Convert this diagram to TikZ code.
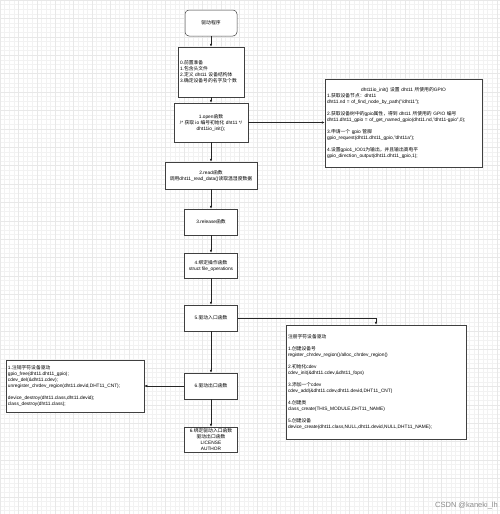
\documentclass[tikz,border=0pt]{standalone}
\usepackage{fontspec}
\usetikzlibrary{arrows.meta}
\setmainfont{Liberation Sans}
\newfontfamily\cjkfont{Noto Sans CJK SC}
\XeTeXinterchartokenstate=1
\newXeTeXintercharclass\CJKcls
\makeatletter
\count@="4E00
\loop
  \XeTeXcharclass\count@=\CJKcls
  \ifnum\count@<"9FFF \advance\count@ by 1
\repeat
\makeatother
\XeTeXcharclass"FF0C=\CJKcls
\XeTeXcharclass"FF1A=\CJKcls
\XeTeXcharclass"3001=\CJKcls
\XeTeXcharclass"3002=\CJKcls
\XeTeXinterchartoks 0 \CJKcls = {\begingroup\cjkfont}
\XeTeXinterchartoks 4095 \CJKcls = {\begingroup\cjkfont}
\XeTeXinterchartoks \CJKcls 0 = {\endgroup}
\XeTeXinterchartoks \CJKcls 4095 = {\endgroup}
\newcommand\fs{\fontsize{4.8}{6}\selectfont}
\begin{document}
\begin{tikzpicture}[x=1pt,y=-1pt,
  box/.style={draw=black!75,line width=0.5pt,fill=white,inner sep=0pt,font=\fs},
  cbox/.style={box,align=center,minimum width=53pt,minimum height=26pt},
  lbox/.style={box,align=left,inner xsep=2pt},
  flow/.style={draw=black!85,line width=0.5pt,-{Latex[length=3pt,width=2.6pt]}},
  ]
\useasboundingbox (0,0) rectangle (500,514);
\fill[white] (0,0) rectangle (500,514);
% grid
\foreach \i in {0,...,108}{
  \draw[black!5,line width=0.3pt] ({\i*4.6},0) -- ({\i*4.6},514);
}
\foreach \i in {0,...,111}{
  \draw[black!5,line width=0.3pt] (0,{\i*4.6}) -- (500,{\i*4.6});
}
\foreach \i in {0,...,27}{
  \draw[black!9,line width=0.4pt] ({\i*18.4},0) -- ({\i*18.4},514);
  \draw[black!9,line width=0.4pt] (0,{\i*18.4}) -- (500,{\i*18.4});
}

\node[cbox,rounded corners=4pt,minimum width=52pt] (start) at (211,23) {驱动程序};
\node[lbox,text width=62pt,minimum height=50pt] (b0) at (211,72)
  {0.前置准备\\1.包含头文件\\2.定义 dht11 设备结构体\\3.确定设备号的名字及个数};
\node[cbox,minimum width=74pt,minimum height=39pt] (b1) at (211,122.5)
  {1.open函数\\/* 获取 io 编号初始化 dht11 */\\dht11io\_init();};
\node[cbox,minimum width=92pt,minimum height=27pt] (b2) at (211,175.5)
  {2.read函数\\调用dht11\_read\_data()读取温湿度数据};
\node[cbox] (b3) at (211,222) {3.release函数};
\node[cbox,minimum height=25pt] (b4) at (211,265.5) {4.绑定操作函数\\struct file\_operations};
\node[cbox] (b5) at (211,318) {5.驱动入口函数};
\node[cbox] (b6) at (211,386) {6.驱动出口函数};
\node[cbox,minimum height=25pt] (b7) at (211,439.5)
  {6.绑定驱动入口函数\\驱动出口函数\\LICENSE\\AUTHOR};

\node[lbox,text width=153pt,minimum height=88pt] (gpio) at (403.5,123)
  {\makebox[\linewidth][c]{dht11io\_init() 设置 dht11 所使用的GPIO}\\
   1.获取设备节点：dht11\\
   dht11.nd = of\_find\_node\_by\_path("/dht11");\\[6pt]
   2.获取设备树中的gpio属性，得到 dht11 所使用的 GPIO 编号\\
   dht11.dht11\_gpio = of\_get\_named\_gpio(dht11.nd,"dht11-gpio",0);\\[6pt]
   3.申请一个 gpio 管脚\\
   gpio\_request(dht11.dht11\_gpio,"dht11a");\\[6pt]
   4.设置gpio1\_IO01为输出，并且输出高电平\\
   gpio\_direction\_output(dht11.dht11\_gpio,1);};

\node[lbox,text width=176pt,minimum height=114pt] (chr) at (376,382)
  {注册字符设备驱动\\[6pt]
   1.创建设备号\\
   register\_chrdev\_region()/alloc\_chrdev\_region()\\[6pt]
   2.初始化cdev\\
   cdev\_init(\&dht11.cdev,\&dht11\_fops)\\[6pt]
   3.添加一个cdev\\
   cdev\_add(\&dht11.cdev,dht11.devid,DHT11\_CNT)\\[6pt]
   4.创建类\\
   class\_create(THIS\_MODULE,DHT11\_NAME)\\[6pt]
   5.创建设备\\
   device\_create(dht11.class,NULL,dht11.devid,NULL,DHT11\_NAME);};

\node[lbox,text width=134pt,minimum height=52pt] (unreg) at (75,386)
  {1.注销字符设备驱动\\
   gpio\_free(dht11.dht11\_gpio);\\
   cdev\_del(\&dht11.cdev);\\
   unregister\_chrdev\_region(dht11.devid,DHT11\_CNT);\\[6pt]
   device\_destroy(dht11.class,dht11.devid);\\
   class\_destroy(dht11.class);};

\draw[flow] (start) -- (b0);
\draw[flow] (b0) -- (b1);
\draw[flow] (b1) -- (b2);
\draw[flow] (b2) -- (b3);
\draw[flow] (b3) -- (b4);
\draw[flow] (b4) -- (b5);
\draw[flow] (b5) -- (b6);
\draw[flow] (b6) -- (b7);
\draw[flow] (b1.east) -- (b1.east -| gpio.west);
\draw[flow] (b5.east) -| (chr.north);
\draw[flow] (b6.west) -- (b6.west -| unreg.east);

\node[anchor=east,font=\fontsize{7.5}{9}\selectfont,text=black!45,inner sep=0pt] (wm) at (498,506) {CSDN @kaneki\_lh};
\end{tikzpicture}
\end{document}
